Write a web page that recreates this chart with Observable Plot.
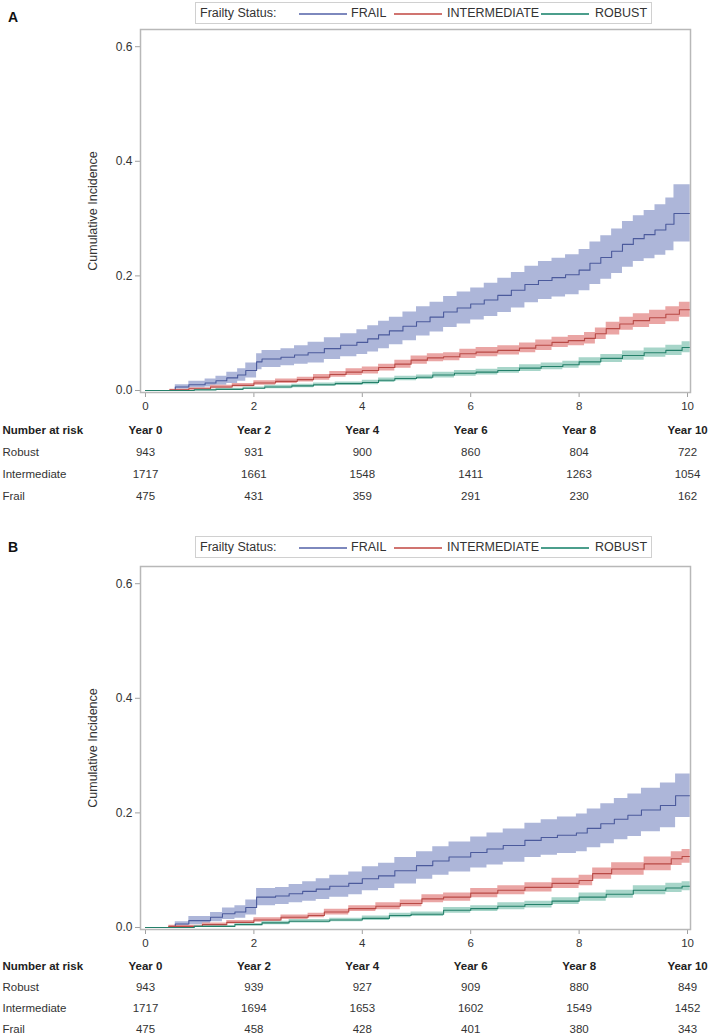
<!DOCTYPE html>
<html><head><meta charset="utf-8">
<script src="https://cdn.jsdelivr.net/npm/d3@7"></script>
<script src="https://cdn.jsdelivr.net/npm/@observablehq/plot@0.6"></script>
<style>
body{margin:0;background:#fff;font-family:"Liberation Sans",Arial,sans-serif;color:#333;width:709px;height:1036px;overflow:hidden}
.panel{position:relative;width:709px;height:537px}
.plab{position:absolute;left:8px;font-weight:bold;font-size:14px;color:#111;line-height:14px}
.legend{position:absolute;left:195px;width:457px;height:22px;border:1px solid #d0d0d0;box-sizing:border-box;font-size:12.5px;color:#333}
.legend span{position:absolute;top:3px;line-height:14px;white-space:nowrap}
.legend i{position:absolute;top:10px;height:1.5px;width:48px}
.chart,.table{position:absolute;left:0}
</style></head><body><div id="root"></div>
<script>
// ---------- data ----------
const groups = ["FRAIL", "INTERMEDIATE", "ROBUST"];
const lineColors = ["#4b5a9c", "#b94a46", "#24806a"];
const bandColors = ["#adb6d9", "#eaa5a4", "#a7d5c9"];
const legendColors = ["#7d88bd", "#d07470", "#4b9e8c"];
const xTicks = [0, 2, 4, 6, 8, 10];
const yTicks = [0, 0.2, 0.4, 0.6];
const riskHeader = "Number at risk";
const riskYears = ["Year 0", "Year 2", "Year 4", "Year 6", "Year 8", "Year 10"];
const riskRows = ["Robust", "Intermediate", "Frail"];
const yLabel = "Cumulative Incidence";
const legendTitle = "Frailty Status:";

// risk tables
const riskA_robust = [943, 931, 900, 860, 804, 722];
const riskA_intermediate = [1717, 1661, 1548, 1411, 1263, 1054];
const riskA_frail = [475, 431, 359, 291, 230, 162];
const riskB_robust = [943, 939, 927, 909, 880, 849];
const riskB_intermediate = [1717, 1694, 1653, 1602, 1549, 1452];
const riskB_frail = [475, 458, 428, 401, 380, 343];

// curves: [time, estimate, lower, upper]
const curveA_frail = [
  [0,0,0,0],[0.55,0.006,0.002,0.010],[0.8,0.010,0.004,0.016],[1.1,0.013,0.006,0.020],
  [1.3,0.017,0.009,0.025],[1.5,0.022,0.012,0.032],[1.7,0.027,0.016,0.038],[1.85,0.035,0.022,0.048],
  [2.05,0.050,0.036,0.064],[2.15,0.055,0.040,0.070],[2.5,0.058,0.043,0.073],[2.75,0.062,0.046,0.078],
  [3.0,0.066,0.048,0.084],[3.3,0.073,0.054,0.092],[3.6,0.079,0.059,0.099],[3.9,0.084,0.063,0.106],
  [4.1,0.090,0.067,0.113],[4.3,0.097,0.073,0.121],[4.5,0.104,0.080,0.128],[4.75,0.112,0.087,0.137],
  [5.0,0.120,0.095,0.146],[5.25,0.128,0.102,0.154],[5.5,0.137,0.110,0.164],[5.75,0.144,0.116,0.172],
  [6.0,0.151,0.123,0.179],[6.25,0.158,0.129,0.187],[6.5,0.166,0.136,0.196],[6.75,0.175,0.144,0.206],
  [7.0,0.185,0.153,0.217],[7.25,0.192,0.159,0.225],[7.5,0.197,0.163,0.231],[7.75,0.202,0.167,0.237],
  [8.0,0.210,0.174,0.246],[8.2,0.222,0.185,0.259],[8.4,0.232,0.194,0.270],[8.6,0.243,0.204,0.282],
  [8.8,0.255,0.215,0.295],[9.0,0.265,0.225,0.305],[9.2,0.272,0.230,0.314],[9.4,0.280,0.236,0.324],
  [9.6,0.290,0.244,0.336],[9.75,0.309,0.259,0.359],[10.05,0.309,0.259,0.359]
];
const curveA_intermediate = [
  [0,0,0,0],[0.45,0.001,0,0.002],[0.8,0.003,0.001,0.005],[1.2,0.006,0.003,0.009],
  [1.6,0.009,0.006,0.012],[2.0,0.013,0.009,0.017],[2.4,0.016,0.012,0.020],[2.8,0.019,0.015,0.023],
  [3.1,0.023,0.018,0.028],[3.4,0.028,0.023,0.033],[3.7,0.032,0.026,0.038],[4.0,0.035,0.029,0.041],
  [4.3,0.040,0.034,0.046],[4.6,0.046,0.039,0.053],[4.9,0.053,0.046,0.060],[5.2,0.057,0.050,0.064],
  [5.5,0.059,0.052,0.066],[5.8,0.064,0.056,0.072],[6.1,0.067,0.059,0.075],[6.5,0.070,0.062,0.078],
  [6.9,0.074,0.066,0.083],[7.2,0.079,0.070,0.088],[7.5,0.084,0.075,0.093],[7.8,0.087,0.078,0.096],
  [8.1,0.091,0.081,0.101],[8.3,0.099,0.089,0.109],[8.5,0.108,0.097,0.119],[8.75,0.116,0.105,0.128],
  [9.0,0.122,0.110,0.134],[9.3,0.127,0.115,0.140],[9.6,0.133,0.120,0.146],[9.85,0.141,0.128,0.154],
  [10.05,0.141,0.128,0.154]
];
const curveA_robust = [
  [0,0,0,0],[0.9,0.001,0,0.002],[1.3,0.002,0.001,0.004],[1.8,0.004,0.002,0.006],
  [2.2,0.006,0.003,0.009],[2.7,0.008,0.005,0.011],[3.1,0.010,0.007,0.013],[3.5,0.012,0.009,0.015],
  [4.0,0.014,0.010,0.018],[4.3,0.018,0.014,0.022],[4.6,0.021,0.017,0.025],[5.0,0.023,0.019,0.027],
  [5.3,0.027,0.022,0.032],[5.7,0.030,0.025,0.035],[6.1,0.032,0.027,0.037],[6.5,0.035,0.030,0.040],
  [6.9,0.039,0.033,0.045],[7.3,0.042,0.036,0.048],[7.7,0.045,0.039,0.051],[8.0,0.050,0.043,0.057],
  [8.4,0.056,0.049,0.063],[8.8,0.061,0.053,0.069],[9.2,0.066,0.058,0.074],[9.6,0.070,0.061,0.079],
  [9.9,0.075,0.066,0.085],[10.05,0.075,0.066,0.085]
];
const curveB_frail = [
  [0,0,0,0],[0.55,0.006,0.002,0.010],[0.8,0.012,0.005,0.019],[1.2,0.018,0.010,0.026],
  [1.42,0.024,0.014,0.034],[1.65,0.027,0.016,0.038],[1.85,0.035,0.022,0.048],[2.05,0.053,0.038,0.068],
  [2.4,0.055,0.040,0.070],[2.65,0.059,0.043,0.075],[2.9,0.063,0.046,0.080],[3.15,0.067,0.049,0.085],
  [3.4,0.072,0.053,0.091],[3.75,0.077,0.057,0.097],[4.0,0.085,0.064,0.106],[4.3,0.090,0.068,0.112],
  [4.6,0.099,0.076,0.122],[5.0,0.108,0.084,0.132],[5.3,0.116,0.091,0.141],[5.6,0.123,0.097,0.149],
  [6.0,0.131,0.104,0.158],[6.3,0.137,0.109,0.165],[6.6,0.143,0.114,0.172],[7.0,0.152,0.122,0.182],
  [7.3,0.157,0.126,0.188],[7.6,0.161,0.129,0.193],[7.95,0.165,0.132,0.198],[8.15,0.173,0.139,0.207],
  [8.4,0.181,0.146,0.216],[8.65,0.189,0.153,0.225],[8.9,0.196,0.159,0.233],[9.15,0.205,0.167,0.243],
  [9.5,0.213,0.174,0.252],[9.78,0.230,0.192,0.268],[10.05,0.230,0.192,0.268]
];
const curveB_intermediate = [
  [0,0,0,0],[0.43,0.002,0,0.004],[1.05,0.005,0.002,0.008],[1.5,0.009,0.006,0.012],
  [2.0,0.013,0.009,0.017],[2.5,0.018,0.014,0.022],[3.0,0.021,0.017,0.025],[3.3,0.027,0.022,0.032],
  [3.75,0.033,0.028,0.038],[4.25,0.037,0.031,0.043],[4.7,0.042,0.036,0.048],[5.1,0.050,0.043,0.057],
  [5.5,0.053,0.046,0.060],[6.0,0.060,0.052,0.068],[6.5,0.065,0.057,0.073],[7.0,0.070,0.062,0.078],
  [7.5,0.077,0.068,0.086],[8.0,0.082,0.073,0.091],[8.25,0.094,0.084,0.104],[8.6,0.102,0.091,0.113],
  [9.2,0.111,0.099,0.123],[9.7,0.120,0.108,0.132],[9.9,0.124,0.112,0.136],[10.05,0.124,0.112,0.136]
];
const curveB_robust = [
  [0,0,0,0],[0.9,0.002,0.001,0.003],[1.65,0.005,0.003,0.007],[2.15,0.008,0.005,0.011],
  [2.65,0.011,0.008,0.014],[3.4,0.013,0.010,0.016],[4.0,0.016,0.012,0.020],[4.5,0.021,0.017,0.025],
  [4.9,0.023,0.019,0.027],[5.5,0.030,0.025,0.035],[6.0,0.033,0.028,0.038],[6.5,0.037,0.031,0.043],
  [7.0,0.040,0.034,0.046],[7.5,0.046,0.040,0.052],[8.0,0.053,0.046,0.060],[8.5,0.058,0.051,0.065],
  [9.0,0.065,0.057,0.073],[9.6,0.069,0.061,0.077],[9.9,0.072,0.064,0.080],[10.05,0.072,0.064,0.080]
];

// ---------- rendering ----------
const FONT = '"Liberation Sans", Arial, sans-serif';
const xDomain = [-0.092, 10.055];
const yDomain = [-0.0035, 0.63];

function toRows(arr) { return arr.map(([t, e, lo, hi]) => ({t, e, lo, hi})); }

function chartPlot(curves) {
  const marks = [];
  curves.forEach((c, i) => {
    marks.push(Plot.areaY(toRows(c), {x: "t", y1: "lo", y2: "hi", fill: bandColors[i], curve: "step-after"}));
  });
  curves.forEach((c, i) => {
    marks.push(Plot.lineY(toRows(c), {x: "t", y: "e", stroke: lineColors[i], strokeWidth: 1.1, curve: "step-after"}));
  });
  marks.push(Plot.axisX({ticks: xTicks, tickSize: 5, tickPadding: 4, stroke: "#a0a0a0", fill: "#333", fontSize: 11.5, label: null}));
  marks.push(Plot.axisY({ticks: yTicks, tickFormat: ".1f", tickSize: 5, tickPadding: 3, stroke: "#a0a0a0", fill: "#333", fontSize: 12, label: null}));
  marks.push(Plot.text([yLabel], {text: d => d, frameAnchor: "left", textAnchor: "middle", lineAnchor: "middle", rotate: -90, dx: -48, fontSize: 12.5, fill: "#333"}));
  marks.push(Plot.frame({stroke: "#b8b8b8", strokeWidth: 1.5}));
  return Plot.plot({
    width: 709, height: 394, marginLeft: 140, marginRight: 19, marginTop: 3, marginBottom: 28,
    x: {domain: xDomain}, y: {domain: yDomain},
    style: {fontFamily: FONT, color: "#333", background: "transparent", overflow: "visible"},
    marks
  });
}

function tablePlot(risk, range) {
  const cells = [];
  riskRows.forEach((r, ri) => risk[ri].forEach((n, i) => cells.push({row: r, t: xTicks[i], n: String(n)})));
  const header = riskYears.map((y, i) => ({row: riskHeader, t: xTicks[i], label: y}));
  return Plot.plot({
    width: 709, height: 100, marginLeft: 140, marginRight: 19, marginTop: 0, marginBottom: 0,
    x: {domain: xDomain, axis: null},
    y: {type: "point", domain: [riskHeader, ...riskRows], range, padding: 0, axis: null},
    style: {fontFamily: FONT, color: "#333", background: "transparent", overflow: "visible", fontSize: "11.5px"},
    marks: [
      Plot.text(header, {x: "t", y: "row", text: "label", fontWeight: "bold", fill: "#222"}),
      Plot.text(cells, {x: "t", y: "row", text: "n", fill: "#333"}),
      Plot.text([riskHeader], {y: d => d, text: d => d, frameAnchor: "left", dx: -138, textAnchor: "start", fontWeight: "bold", fill: "#222"}),
      Plot.text(riskRows, {y: d => d, text: d => d, frameAnchor: "left", dx: -138, textAnchor: "start", fill: "#333"})
    ]
  });
}

function legend(top) {
  const el = document.createElement("div");
  el.className = "legend";
  el.style.top = top + "px";
  const pos = [{line: 103, text: 155}, {line: 198, text: 251}, {line: 345, text: 399}];
  let html = `<span style="left:4px">${legendTitle}</span>`;
  groups.forEach((g, i) => {
    html += `<i style="left:${pos[i].line}px;background:${legendColors[i]}"></i><span style="left:${pos[i].text}px">${g}</span>`;
  });
  el.innerHTML = html;
  return el;
}

function panel(letter, labelTop, legendTop, curves, risk, tableRange) {
  const p = document.createElement("div");
  p.className = "panel";
  const lab = document.createElement("div");
  lab.className = "plab"; lab.style.top = labelTop + "px"; lab.textContent = letter;
  p.appendChild(lab);
  p.appendChild(legend(legendTop));
  const c = document.createElement("div"); c.className = "chart"; c.style.top = "26px";
  c.appendChild(chartPlot(curves)); p.appendChild(c);
  const t = document.createElement("div"); t.className = "table"; t.style.top = "414px";
  t.appendChild(tablePlot(risk, tableRange)); p.appendChild(t);
  return p;
}

const root = document.getElementById("root");
root.appendChild(panel("A", 10, 2, [curveA_frail, curveA_intermediate, curveA_robust], [riskA_robust, riskA_intermediate, riskA_frail], [15, 83]));
root.appendChild(panel("B", 3, -1, [curveB_frail, curveB_intermediate, curveB_robust], [riskB_robust, riskB_intermediate, riskB_frail], [15, 78]));
</script></body></html>
